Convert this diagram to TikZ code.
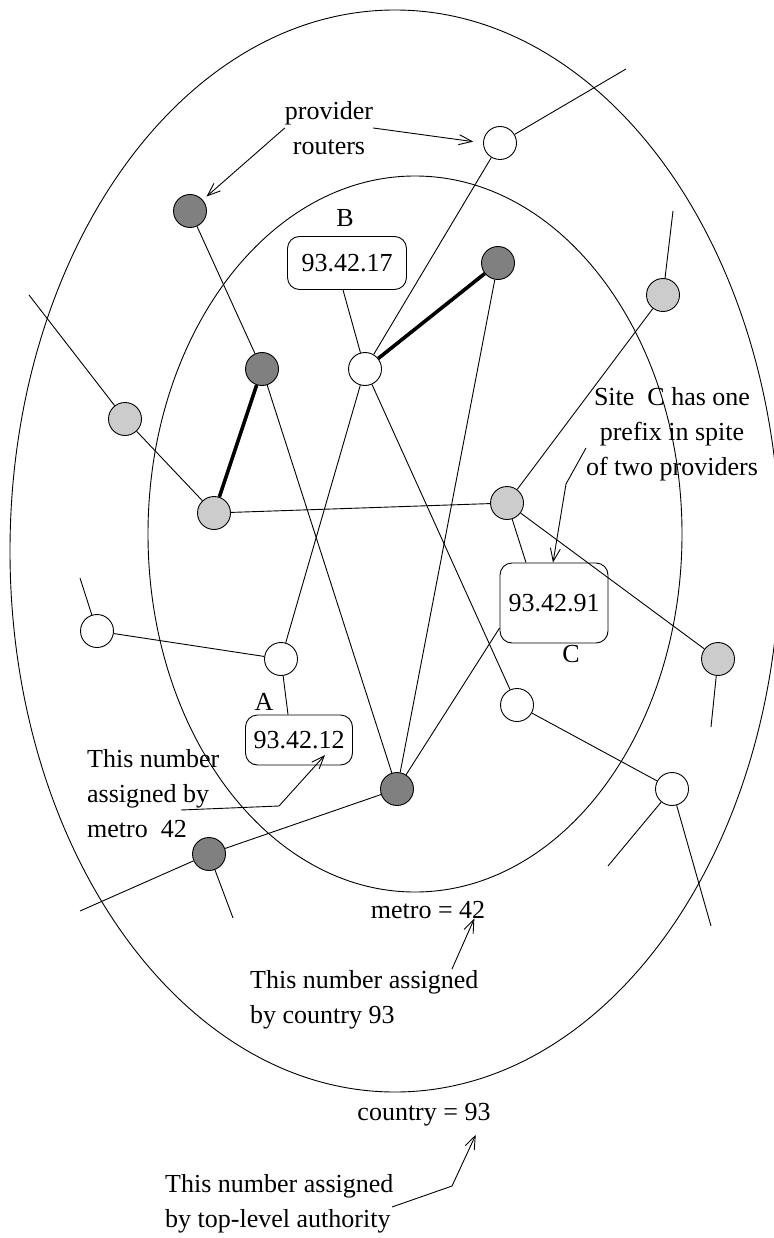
\documentclass[tikz,border=0pt]{standalone}
\usepackage{fontspec}
\setmainfont{Liberation Serif}
\usetikzlibrary{arrows.meta, positioning}
\definecolor{rtdark}{HTML}{808080}
\definecolor{rtlight}{HTML}{CCCCCC}
\newcommand{\lblfont}{\fontsize{26}{35}\selectfont}
\tikzset{
  router/.style={circle, draw, line width=0.9pt, minimum size=33pt, inner sep=0pt},
  rwhite/.style={router, fill=white},
  rdark/.style={router, fill=rtdark},
  rlight/.style={router, fill=rtlight},
  sitebox/.style={rectangle, rounded corners=12pt, draw, line width=0.9pt,
                 fill=white, font=\lblfont, inner sep=0pt},
  link/.style={line width=0.9pt},
  trunk/.style={line width=3.6pt},
  region/.style={line width=0.9pt},
  note/.style={-{Straight Barb[length=13pt, width=10pt]}, line width=0.9pt},
  txt/.style={font=\lblfont, inner sep=0pt},
}

\begin{document}
\begin{tikzpicture}[x=1pt,y=-1pt]
    \useasboundingbox (0,0) rectangle (773,1238);
    % country and metro regions
    \draw[region] (395,551) ellipse [x radius=385pt, y radius=541pt];
    \draw[region] (415,534) ellipse [x radius=267pt, y radius=358pt];
    % provider routers
    \node[rwhite] (wtop)   at (500,143) {};
    \node[rdark]  (dtop)   at (190,211) {};
    \node[rdark]  (dright) at (498,263) {};
    \node[rwhite] (wmid)   at (365,369) {};
    \node[rdark]  (dmid)   at (262,369) {};
    \node[rlight] (lright) at (663,295) {};
    \node[rlight] (lleft)  at (125,419) {};
    \node[rlight] (lwest)  at (214,513) {};
    \node[rlight] (least)  at (507,503) {};
    \node[rlight] (lfar)   at (718,659) {};
    \node[rwhite] (wleft)  at (97,631)  {};
    \node[rwhite] (wsiteA) at (281,659) {};
    \node[rdark]  (dlow)   at (397,789) {};
    \node[rdark]  (dbot)   at (209,854) {};
    \node[rwhite] (wlow)   at (517,705) {};
    \node[rwhite] (wfar)   at (672,789) {};
    % sites
    \node[sitebox, minimum width=119pt, minimum height=53pt] (pB) at (347,263) {93.42.17};
    \node[sitebox, minimum width=107pt, minimum height=50pt] (pA) at (299,740) {93.42.12};
    \node[sitebox, minimum width=108pt, minimum height=80pt] (pC) at (554,603) {93.42.91};
    \node[txt, anchor=base] (lB) at (345,227) {B};
    \node[txt, anchor=base] (lA) at (264,710) {A};
    \node[txt, anchor=base] (lC) at (571,662) {C};
    % notes
    \node[txt, align=center] (nprov) at (329,128) {provider\\routers};
    \node[txt, align=center] (nsite) at (672,434) {Site\ \ C has one\\prefix in spite\\of two providers};
    \node[txt, align=left, anchor=west] (nmetro) at (87,794) {This number\\assigned by\\metro\ \ 42};
    \node[txt, anchor=base] (kmetro) at (428,918) {metro = 42};
    \node[txt, align=left, anchor=west] (ncountry) at (250,1000) {This number assigned\\by country 93};
    \node[txt, anchor=base] (kcountry) at (424,1120) {country = 93};
    \node[txt, align=left, anchor=west] (ntop) at (165,1204) {This number assigned\\by top-level authority};
    % free ends
    \coordinate (ewtop)   at (626,69);
    \coordinate (eright)  at (673,211);
    \coordinate (eleft)   at (29,295);
    \coordinate (efar)    at (711,727);
    \coordinate (ewleft)  at (80,578);
    \coordinate (ebotw)   at (80,911);
    \coordinate (ebots)   at (233,918);
    \coordinate (efarw)   at (608,866);
    \coordinate (efars)   at (711,926);
    \coordinate (siteTail) at (586,448);
    \coordinate (siteBend) at (566,484);
    \coordinate (metroTail) at (181,810);
    \coordinate (metroBend) at (279,806);
    \coordinate (ctryTail) at (452,969);
    \coordinate (topTail)  at (392,1207);
    \coordinate (topBend)  at (452,1186);
    % links
    \draw[link] (wtop) -- (ewtop);
    \draw[link] (wtop) -- (wmid);
    \draw[link] (dtop) -- (dmid);
    \draw[link] (dmid) -- (dlow);
    \draw[trunk] (dmid) -- (lwest);
    \draw[trunk] (wmid) -- (dright);
    \draw[link] ([xshift=-4pt]pB.south) -- (wmid);
    \draw[link] (wmid) -- (wsiteA);
    \draw[link] (wmid) -- (wlow);
    \draw[link] (dright) -- (dlow);
    \draw[link] (lright) -- (eright);
    \draw[link] (lright) -- (least);
    \draw[link] (lleft) -- (eleft);
    \draw[link] (lleft) -- (lwest);
    \draw[link] (lwest) -- (least);
    \draw[link] (least) -- ([xshift=-28pt]pC.north);
    \draw[link] (least) -- (lfar);
    \draw[link] (lfar) -- (efar);
    \draw[link] (wleft) -- (ewleft);
    \draw[link] (wleft) -- (wsiteA);
    \draw[link] (wsiteA) -- ([xshift=-11pt]pA.north);
    \draw[link] ([yshift=-25pt]pC.west) -- (dlow);
    \draw[link] (dlow) -- (dbot);
    \draw[link] (dbot) -- (ebotw);
    \draw[link] (dbot) -- (ebots);
    \draw[link] (wlow) -- (wfar);
    \draw[link] (wfar) -- (efarw);
    \draw[link] (wfar) -- (efars);
    % arrows
    \draw[note, shorten >=5pt] (nprov.west) -- (dtop);
    \draw[note, shorten >=10pt] (nprov.east) -- (wtop.west);
    \draw[note] (siteTail) -- (siteBend) -- ([xshift=-1pt]pC.north);
    \draw[note] (metroTail) -- (metroBend) -- ([shift={(26pt,-15pt)}]pA.center);
    \draw[note] (ctryTail) -- ([xshift=-11pt]kmetro.south east);
    \draw[note] (topTail) -- (topBend) -- ([xshift=-15pt,yshift=-9pt]kcountry.south east);
\end{tikzpicture}
\end{document}
